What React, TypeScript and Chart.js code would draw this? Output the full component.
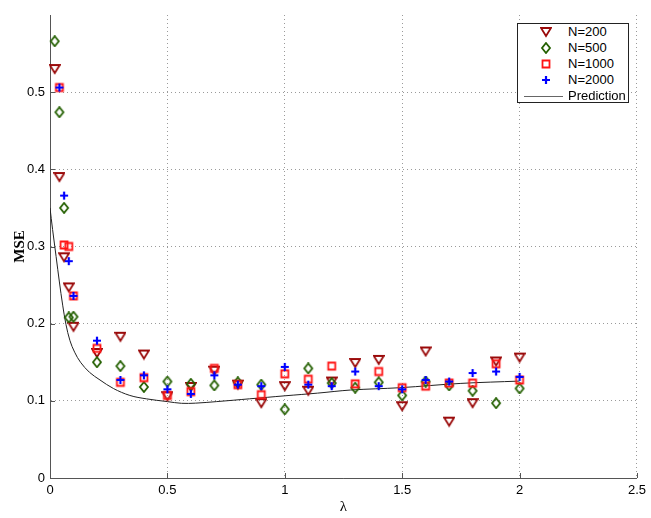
import { useEffect, useMemo, useRef } from "react";
import { Chart, registerables } from "chart.js";

Chart.register(...registerables);

// lambda values where the simulations were run
const lambdas = [0.02, 0.04, 0.06, 0.08, 0.1, 0.2, 0.3, 0.4, 0.5, 0.6, 0.7, 0.8, 0.9, 1.0, 1.1, 1.2, 1.3, 1.4, 1.5, 1.6, 1.7, 1.8, 1.9, 2.0];

const mse200 = [0.530, 0.390, 0.286, 0.247, 0.196, 0.162, 0.183, 0.160, 0.106, 0.118, 0.139, 0.121, 0.097, 0.119, 0.113, 0.125, 0.149, 0.153, 0.093, 0.164, 0.073, 0.097, 0.151, 0.156];
const mse500 = [0.566, 0.474, 0.350, 0.208, 0.209, 0.150, 0.145, 0.118, 0.125, 0.122, 0.120, 0.124, 0.121, 0.089, 0.142, 0.123, 0.117, 0.124, 0.107, 0.125, 0.120, 0.113, 0.097, 0.116];
const mse1000 = [null, 0.506, 0.302, 0.300, 0.236, 0.168, 0.124, 0.130, 0.107, 0.112, 0.142, 0.121, 0.108, 0.135, 0.128, 0.145, 0.122, 0.138, 0.117, 0.119, 0.123, 0.123, 0.148, 0.127];
const mse2000 = [null, 0.506, 0.366, 0.281, 0.236, 0.178, 0.127, 0.133, 0.115, 0.109, 0.133, 0.121, 0.119, 0.144, 0.121, 0.119, 0.138, 0.119, 0.115, 0.127, 0.125, 0.136, 0.138, 0.131];

// prediction curve
const predLambda = [0, 0.011, 0.026, 0.04, 0.054, 0.068, 0.085, 0.105, 0.13, 0.168, 0.213, 0.27, 0.34, 0.41, 0.5, 0.56, 0.62, 0.71, 0.85, 1.0, 1.14, 1.28, 1.49, 1.75, 2.0];
const predMse = [0.350, 0.322, 0.287, 0.254, 0.224, 0.199, 0.178, 0.163, 0.150, 0.137, 0.127, 0.116, 0.107, 0.1026, 0.099, 0.0968, 0.097, 0.099, 0.1026, 0.1065, 0.110, 0.114, 0.117, 0.1226, 0.1256];

const xTicks = [0, 0.5, 1, 1.5, 2, 2.5];
const yTicks = [0, 0.1, 0.2, 0.3, 0.4, 0.5];

const seriesLabels = ["N=200", "N=500", "N=1000", "N=2000"];
const seriesColors = ["#9a0a0a", "#246000", "#ff1414", "#0000ff"];

const axisColor = "#555";
const sans = "'Liberation Sans', Arial, Helvetica, sans-serif";
const serif = "'Liberation Serif', 'Times New Roman', serif";

type MarkerKind = "triangle" | "diamond" | "square" | "plus";
const markerKinds: MarkerKind[] = ["triangle", "diamond", "square", "plus"];

function makeMarker(kind: MarkerKind, color: string): HTMLCanvasElement {
  const c = document.createElement("canvas");
  c.width = 12;
  c.height = 12;
  const g = c.getContext("2d")!;
  g.strokeStyle = color;
  g.lineWidth = 1.8;
  g.beginPath();
  if (kind === "triangle") {
    g.moveTo(1, 2);
    g.lineTo(11, 2);
    g.lineTo(6, 10);
    g.closePath();
  } else if (kind === "diamond") {
    g.moveTo(6, 1);
    g.lineTo(10, 6);
    g.lineTo(6, 11);
    g.lineTo(2, 6);
    g.closePath();
  } else if (kind === "square") {
    g.rect(2.5, 2.5, 7, 7);
  } else {
    g.lineWidth = 2.2;
    g.moveTo(6, 2);
    g.lineTo(6, 10);
    g.moveTo(2, 6);
    g.lineTo(10, 6);
  }
  g.stroke();
  return c;
}

const toPoints = (ys: (number | null)[]) =>
  lambdas.map((x, i) => ({ x, y: ys[i] })).filter((p) => p.y !== null) as { x: number; y: number }[];

// matlab style ticks, pointing into the plot
const innerTicks = {
  id: "innerTicks",
  beforeDatasetsDraw(chart: Chart) {
    const { ctx, chartArea, scales } = chart;
    ctx.save();
    ctx.strokeStyle = axisColor;
    ctx.lineWidth = 1;
    ctx.beginPath();
    xTicks.forEach((v) => {
      const px = Math.round(scales.x.getPixelForValue(v)) + 0.5;
      ctx.moveTo(px, chartArea.bottom);
      ctx.lineTo(px, chartArea.bottom - 5);
    });
    yTicks.forEach((v) => {
      const py = Math.round(scales.y.getPixelForValue(v)) + 0.5;
      ctx.moveTo(chartArea.left, py);
      ctx.lineTo(chartArea.left + 5, py);
    });
    ctx.stroke();
    ctx.restore();
  },
};

const App = () => {
  const chartRef = useRef<HTMLCanvasElement>(null);
  const markers = useMemo(() => markerKinds.map((k, i) => makeMarker(k, seriesColors[i])), []);

  useEffect(() => {
    let myChart: Chart | null = null;
    if (chartRef.current) {
      const series = [mse200, mse500, mse1000, mse2000];
      myChart = new Chart(chartRef.current, {
        type: "scatter",
        data: {
          datasets: [
            ...series.map((ys, i) => ({
              label: seriesLabels[i],
              data: toPoints(ys),
              pointStyle: markers[i],
              pointRadius: 5,
              showLine: false,
              clip: false as any,
              order: 4 - i,
            })),
            {
              type: "line" as const,
              label: "Prediction",
              data: predLambda.map((x, i) => ({ x, y: predMse[i] })),
              borderColor: "#222",
              borderWidth: 1,
              pointRadius: 0,
              tension: 0.35,
              showLine: true,
              order: 5,
            },
          ],
        },
        options: {
          animation: false,
          responsive: true,
          maintainAspectRatio: false,
          layout: { padding: { left: 0, top: 15, right: 14, bottom: 0 } },
          plugins: { legend: { display: false }, tooltip: { enabled: false } },
          scales: {
            x: {
              type: "linear",
              min: 0,
              max: 2.5,
              afterBuildTicks: (s: any) => {
                s.ticks = xTicks.map((value) => ({ value }));
              },
              afterFit: (s: any) => {
                s.height = 40;
              },
              ticks: {
                callback: (v: any) => String(v),
                color: "#000",
                font: { family: sans, size: 13 },
                padding: 5,
                maxRotation: 0,
              },
              grid: { color: "#9a9a9a", drawTicks: false, lineWidth: 1 },
              border: { display: true, color: axisColor, width: 1, dash: [1, 3] },
              title: {
                display: true,
                text: "λ",
                color: "#000",
                font: { family: serif, size: 15 },
                padding: { top: 0, bottom: 2 },
              },
            },
            y: {
              type: "linear",
              min: 0,
              max: 0.6,
              afterBuildTicks: (s: any) => {
                s.ticks = yTicks.map((value) => ({ value }));
              },
              afterFit: (s: any) => {
                s.width = 50;
              },
              ticks: {
                callback: (v: any) => String(v),
                color: "#000",
                font: { family: sans, size: 13 },
                padding: 5,
              },
              grid: { color: "#9a9a9a", drawTicks: false, lineWidth: 1 },
              border: { display: true, color: axisColor, width: 1, dash: [1, 3] },
              title: {
                display: true,
                text: "MSE",
                color: "#000",
                font: { family: serif, size: 15, weight: "bold" },
                padding: { top: 11, bottom: 0 },
              },
            },
          },
        },
        plugins: [innerTicks],
      });
    }
    return () => {
      if (myChart) {
        myChart.destroy();
      }
    };
  }, [markers]);

  const legendRows = [...seriesLabels, "Prediction"];

  return (
    <div style={{ position: "fixed", left: 0, top: 0, width: 651, height: 518, background: "#fff" }}>
      <canvas ref={chartRef}></canvas>
      <div
        style={{
          position: "absolute",
          left: 517,
          top: 23,
          width: 112,
          height: 80,
          boxSizing: "border-box",
          border: "1px solid #222",
          background: "#fff",
          fontFamily: sans,
          fontSize: 13,
          color: "#000",
        }}
      >
        {legendRows.map((label, i) => (
          <div key={label} style={{ position: "absolute", left: 0, top: i * 16, width: "100%", height: 16, lineHeight: "16px" }}>
            {i < 4 ? (
              <img src={markers[i].toDataURL()} width={12} height={12} style={{ position: "absolute", left: 22, top: 2 }} />
            ) : (
              <div style={{ position: "absolute", left: 6, top: 8, width: 39, height: 1, background: "#666" }} />
            )}
            <span style={{ position: "absolute", left: 50, top: 0, whiteSpace: "nowrap" }}>{label}</span>
          </div>
        ))}
      </div>
    </div>
  );
};

export default App;
